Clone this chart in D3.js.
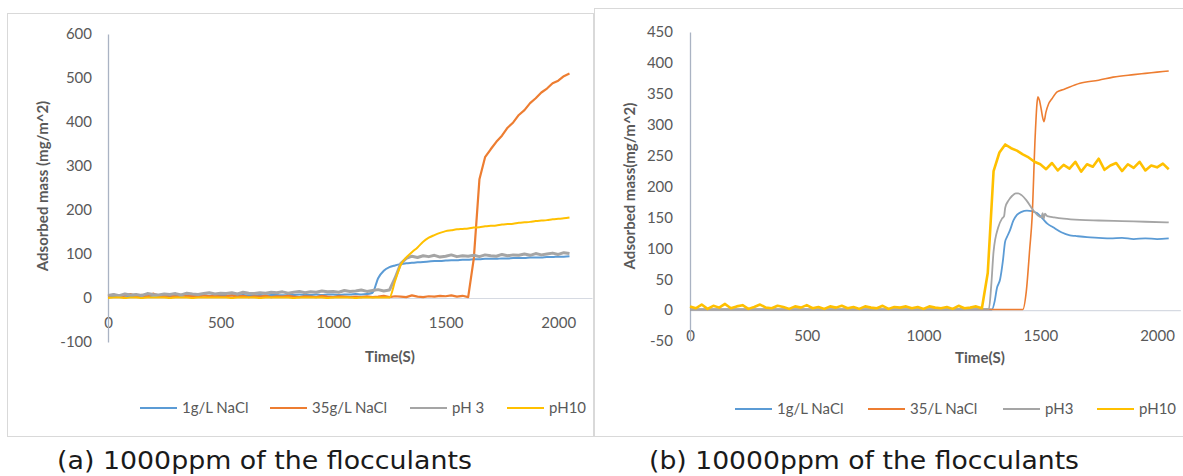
<!DOCTYPE html>
<html>
<head>
<meta charset="utf-8">
<script src="https://cdn.jsdelivr.net/npm/d3@7"></script>
<style>
  body { margin: 0; background: #fff; }
  svg { display: block; }
  .tick text { font-family: Lato, "Open Sans", sans-serif; font-size: 15px; fill: #595959; }
</style>
</head>
<body>
<svg id="chart" width="1183" height="476"></svg>
<script>
// sampling times (s) shared by the noisy traces
let timeGrid = [0,25,50,75,100,125,150,175,200,225,250,275,300,325,350,375,400,425,450,475,
    500,525,550,575,600,625,650,675,700,725,750,775,800,825,850,875,900,925,950,975,
    1000,1025,1050,1075,1100,1125,1150,1175,1200,1225,1250,1275,1300,1325,1350,1375,1400,1425,1450,1475,
    1500,1525,1550,1575,1600,1625,1650,1675,1700,1725,1750,1775,1800,1825,1850,1875,1900,1925,1950,1975,
    2000,2025,2050];

// (a) 1000ppm
let massA_NaCl1 = [3,4,4,5,4,4,5,4,5,5, 5,4,5,5,6,5,5,6,5,6, 6,5,6,6,7,6,6,7,6,7,
    7,6,7,7,8,7,7,8,7,8, 8,7,8,8,9,8,9,
    12,45,62,70,74,77,79,80,81,82,83,84,84,85,86,86,87,87,88,88,89,89,89,90,90,91,91,91,92,92,92,93,93,94,94,95];
let massA_NaCl35 = [4,8,3,6,9,4,7,3,10,5, 4,6,3,7,4,5,3,6,4,5, 3,4,6,3,5,2,4,3,5,2,
    4,3,5,3,2,4,3,2,5,3, 2,4,3,2,3,2,4,2,3,5, 2,4,3,2,6,3,2,4,3,5, 4,6,3,5,2,
    90,270,320,338,355,369,387,399,416,427,443,454,467,476,488,494,504,510];
let massA_pH3 = [6,8,5,9,7,8,6,10,8,7, 9,8,10,7,11,9,8,10,12,9, 11,10,12,9,13,11,10,12,11,13,
    12,14,11,13,15,12,14,13,16,14, 15,13,17,15,16,18,15,17,19,16,
    18,45,78,90,95, 92,96,94,97,93,95,98,94,96,95, 97,94,98,96,95,99,96,98,97,100,
    97,101,98,100,102,99,103,101];
let massA_pH10 = [0,1,1,0,1,1,0,1,1,1, 1,0,1,1,1,0,1,1,1,1, 1,1,0,1,1,1,1,0,1,1,
    1,1,1,0,1,1,1,1,1,0, 1,1,1,1,0,1,1,1,1,1, 1,
    38,75,92,104,115,128,137,143,148,
    152,154,156,157,158,160,161,163,164,165,167,168,169,171,172,173,175,176,177,179,180,181,183];

// (b) 10000ppm
let timeB_NaCl1 = [0,500,1000,1293,1305,1314,1328,1340,1349,1357,1370,1385,1400,1420,1443,1465,1486,
    1510,1530,1555,1590,1627,1650,1700,1750,1800,1850,1900,1950,2000,2050];
let massB_NaCl1 = [1,1,1,1,15,35,50,80,110,118,129,145,154,159,161,160,157,
    148,140,134,126,121,120,118,117,116,117,115,116,115,116];
let timeB_NaCl35 = [0,500,1000,1425,1440,1455,1465,1478,1486,1490,1496,1504,1510,1516,1524,1535,1550,
    1572,1600,1670,1750,1812,1900,1950,2000,2050];
let massB_NaCl35 = [1,1,1,1,30,100,150,280,335,345,340,325,312,305,320,333,342,
    353,357,367,372,377,381,383,385,387];
let timeB_pH3 = [0,500,1000,1280,1290,1300,1320,1336,1345,1350,1365,1380,1395,1405,1420,1440,1469,
    1490,1505,1510,1515,1520,1530,1560,1600,1670,1750,1850,1950,2050];
let massB_pH3 = [1,1,1,2,40,95,134,148,152,166,178,185,189,189,186,178,162,
    153,150,157,148,156,152,150,148,146,145,144,143,142];
let massB_pH10 = [6,3,9,2,7,4,10,3,6,8, 2,5,9,4,3,7,5,2,6,4, 8,3,5,2,6,4,7,3,5,2,
    6,4,3,7,2,5,4,6,3,5, 2,6,4,3,5,2,7,3,4,6, 3,
    60,225,255,268,262,258,252,247,240,236,228,
    238,226,235,229,240,224,236,232,245,227,234,238,225,236,230,240,226,234,231,237,228];

let xTicks = [0, 500, 1000, 1500, 2000];
let yTicksA = [-100, 0, 100, 200, 300, 400, 500, 600];
let yTicksB = [-50, 0, 50, 100, 150, 200, 250, 300, 350, 400, 450];
let legendA = ["1g/L NaCl", "35g/L NaCl", "pH 3", "pH10"];
let legendB = ["1g/L NaCl", "35/L NaCl", "pH3", "pH10"];
let colors = ["#5B9BD5", "#ED7D31", "#A5A5A5", "#FFC000"];

let svg = d3.select("#chart");
let plain = d => String(d);

function drawPanel(p) {
    // frame
    svg.append("rect")
        .attr("x", p.frame[0] + 0.5).attr("y", p.frame[1] + 0.5)
        .attr("width", p.frame[2]).attr("height", p.frame[3])
        .attr("fill", "#fff").attr("stroke", "#d9d9d9");

    let x = d3.scaleLinear().domain(p.xDomain).range(p.xRange);
    let y = d3.scaleLinear().domain(p.yDomain).range(p.yRange);

    // horizontal axis sits on y = 0
    let gx = svg.append("g")
        .attr("transform", `translate(0, ${y(0)})`)
        .call(d3.axisBottom(x).tickValues(xTicks).tickFormat(plain)
            .tickSize(0).tickPadding(p.xPad).tickSizeOuter(0));
    gx.select(".domain").attr("stroke", "#d6dae2").attr("stroke-width", 1.2);

    let gy = svg.append("g")
        .attr("transform", `translate(${x(0)}, 0)`)
        .call(d3.axisLeft(y).tickValues(p.yTicks).tickFormat(plain)
            .tickSize(0).tickPadding(p.yPad).tickSizeOuter(0));
    gy.select(".domain").attr("stroke", "#aab3c3").attr("stroke-width", 1.3);

    p.series.forEach((s, i) => {
        let line = d3.line()
            .x(d => x(d[0]))
            .y(d => y(d[1]))
            .curve(s.smooth ? d3.curveMonotoneX : d3.curveLinear);
        let pts = s.t.map((t, k) => [t, s.v[k]]).filter(d => d[1] !== undefined);
        svg.append("path")
            .datum(pts)
            .attr("d", line)
            .attr("fill", "none")
            .attr("stroke", colors[i])
            .attr("stroke-width", s.w)
            .attr("stroke-linejoin", "round");
    });

    // titles
    svg.append("text")
        .attr("x", p.xTitle[0]).attr("y", p.xTitle[1])
        .attr("text-anchor", "middle")
        .style("font-family", "Lato, sans-serif").style("font-size", "15px")
        .style("font-weight", "bold").style("fill", "#595959")
        .text("Time(S)");
    svg.append("text")
        .attr("transform", `translate(${p.yTitle[0]}, ${p.yTitle[1]}) rotate(-90)`)
        .attr("text-anchor", "middle").attr("dy", "0.35em")
        .style("font-family", "Lato, sans-serif").style("font-size", "15px")
        .style("font-weight", "bold").style("fill", "#595959")
        .text(p.yLabel);

    // legend
    p.legend.forEach((name, i) => {
        let lx = p.legendX[i];
        svg.append("line")
            .attr("x1", lx).attr("x2", lx + 37)
            .attr("y1", p.legendY).attr("y2", p.legendY)
            .attr("stroke", colors[i]).attr("stroke-width", 2);
        svg.append("text")
            .attr("x", lx + 42).attr("y", p.legendY).attr("dy", "0.35em")
            .style("font-family", "Lato, sans-serif").style("font-size", "15px")
            .style("fill", "#595959")
            .text(name);
    });

    svg.append("text")
        .attr("x", p.caption[0]).attr("y", p.caption[1])
        .attr("textLength", p.caption[2]).attr("lengthAdjust", "spacingAndGlyphs")
        .style("font-family", "'DejaVu Sans', sans-serif").style("font-size", "25px")
        .style("fill", "#1a1a1a")
        .text(p.captionText);
}

drawPanel({
    frame: [7, 13, 586, 423],
    xDomain: [0, 2150], xRange: [108, 592],
    yDomain: [-100, 600], yRange: [342, 34],
    yTicks: yTicksA, xPad: 19, yPad: 16,
    xTitle: [390, 362], yTitle: [43, 186], yLabel: "Adsorbed mass (mg/m^2)",
    legend: legendA, legendX: [140, 270, 410, 507], legendY: 408,
    caption: [57, 469, 415], captionText: "(a) 1000ppm of the flocculants",
    series: [
        {t: timeGrid, v: massA_NaCl1, w: 2, smooth: true},
        {t: timeGrid, v: massA_NaCl35, w: 2.2},
        {t: timeGrid, v: massA_pH3, w: 3},
        {t: timeGrid, v: massA_pH10, w: 2, smooth: true}
    ]
});

drawPanel({
    frame: [594, 8, 600, 428],
    xDomain: [0, 2100], xRange: [690, 1180.4],
    yDomain: [-50, 450], yRange: [341, 32],
    yTicks: yTicksB, xPad: 20, yPad: 17,
    xTitle: [980, 363], yTitle: [630, 186], yLabel: "Adsorbed mass(mg/m^2)",
    legend: legendB, legendX: [735, 868, 1003, 1097], legendY: 409,
    caption: [649, 469, 430], captionText: "(b) 10000ppm of the flocculants",
    series: [
        {t: timeB_NaCl1, v: massB_NaCl1, w: 1.8, smooth: true},
        {t: timeB_NaCl35, v: massB_NaCl35, w: 1.6, smooth: true},
        {t: timeB_pH3, v: massB_pH3, w: 1.8, smooth: true},
        {t: timeGrid, v: massB_pH10, w: 2.6}
    ]
});
</script>
</body>
</html>
